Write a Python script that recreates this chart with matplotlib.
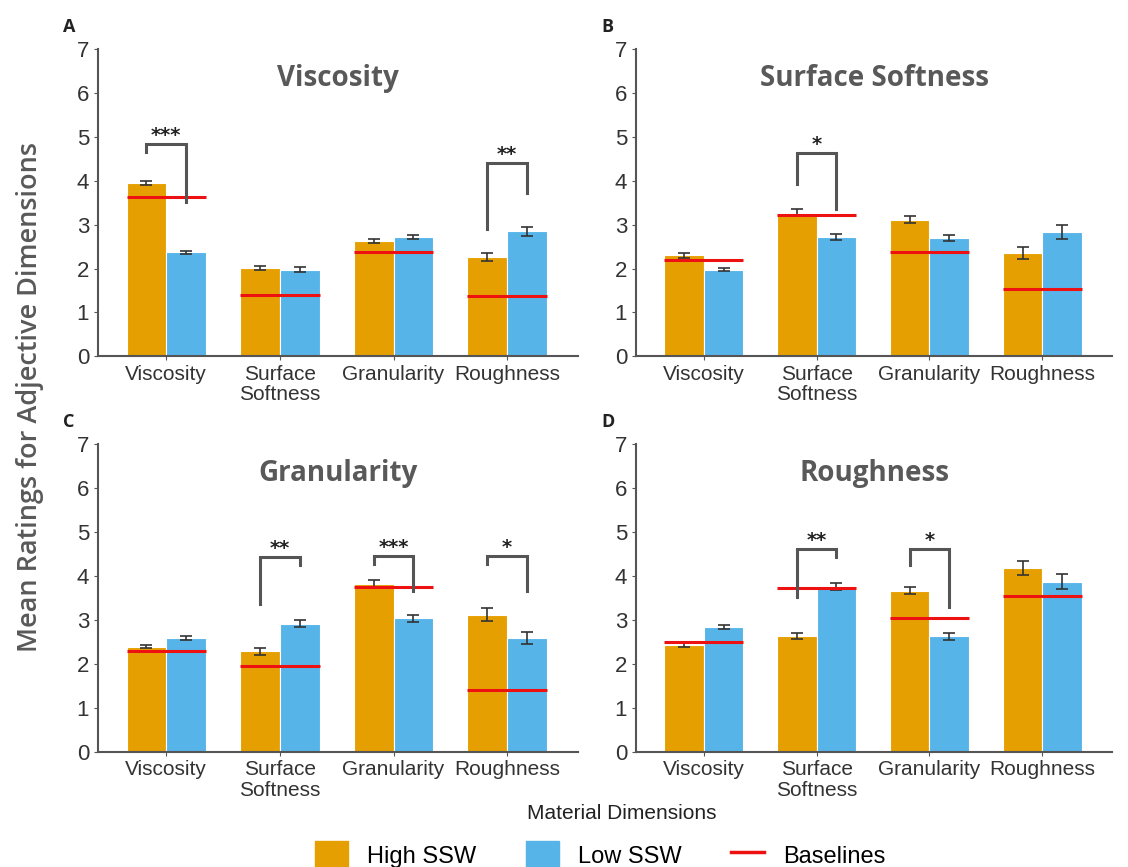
import matplotlib.pyplot as plt
from matplotlib.patches import Patch
from matplotlib.lines import Line2D
import numpy as np

cats = ["Viscosity", "Surface\nSoftness", "Granularity", "Roughness"]
titles = ["Viscosity", "Surface Softness", "Granularity", "Roughness"]
letters = ["A", "B", "C", "D"]

high_A = [3.95, 2.02, 2.63, 2.26]
low_A = [2.37, 1.98, 2.72, 2.85]
high_err_A = [0.05, 0.05, 0.05, 0.09]
low_err_A = [0.03, 0.05, 0.05, 0.10]
base_A = [3.64, 1.41, 2.37, 1.37]

high_B = [2.30, 3.28, 3.12, 2.36]
low_B = [1.98, 2.73, 2.70, 2.84]
high_err_B = [0.05, 0.08, 0.07, 0.13]
low_err_B = [0.03, 0.07, 0.07, 0.16]
base_B = [2.20, 3.23, 2.37, 1.54]

high_C = [2.39, 2.28, 3.82, 3.12]
low_C = [2.58, 2.91, 3.03, 2.59]
high_err_C = [0.04, 0.07, 0.08, 0.15]
low_err_C = [0.05, 0.08, 0.08, 0.13]
base_C = [2.28, 1.94, 3.75, 1.41]

high_D = [2.43, 2.63, 3.66, 4.17]
low_D = [2.84, 3.75, 2.62, 3.87]
high_err_D = [0.04, 0.07, 0.08, 0.16]
low_err_D = [0.05, 0.08, 0.07, 0.17]
base_D = [2.50, 3.73, 3.04, 3.54]

# significance brackets: (category, left leg bottom, top, right leg bottom, stars)
sig_A = [(0, 4.65, 4.84, 3.53, "***"), (3, 2.90, 4.40, 3.72, "**")]
sig_B = [(1, 3.92, 4.63, 3.37, "*")]
sig_C = [(1, 3.37, 4.42, 4.24, "**"), (2, 4.26, 4.44, 3.65, "***"), (3, 4.26, 4.44, 3.65, "*")]
sig_D = [(1, 3.52, 4.60, 4.42, "**"), (2, 4.24, 4.60, 3.29, "*")]

highs = [high_A, high_B, high_C, high_D]
lows = [low_A, low_B, low_C, low_D]
high_errs = [high_err_A, high_err_B, high_err_C, high_err_D]
low_errs = [low_err_A, low_err_B, low_err_C, low_err_D]
bases = [base_A, base_B, base_C, base_D]
sigs = [sig_A, sig_B, sig_C, sig_D]

orange = "#E69F00"
blue = "#56B4E9"
red = "#EE1111"
gray = "#555555"

fig = plt.figure(figsize=(11.28, 8.67), dpi=100)
boxes = [
    [0.087, 0.589, 0.425, 0.354],
    [0.564, 0.589, 0.422, 0.354],
    [0.087, 0.133, 0.425, 0.355],
    [0.564, 0.133, 0.422, 0.355],
]
w = 0.35
x = np.arange(len(cats))

for i in range(4):
    ax = fig.add_axes(boxes[i])
    ax.bar(x - w / 2, highs[i], w, color=orange, edgecolor="white", linewidth=0.8)
    ax.bar(x + w / 2, lows[i], w, color=blue, edgecolor="white", linewidth=0.8)
    ax.errorbar(x - w / 2, highs[i], yerr=high_errs[i], fmt="none", ecolor="#333333",
                elinewidth=1.2, capsize=4, capthick=1.2)
    ax.errorbar(x + w / 2, lows[i], yerr=low_errs[i], fmt="none", ecolor="#333333",
                elinewidth=1.2, capsize=4, capthick=1.2)
    ax.hlines(bases[i], x - w, x + w, color=red, linewidth=2.2, zorder=4)

    for c, yl, yt, yr, s in sigs[i]:
        ax.plot([c - w / 2, c - w / 2, c + w / 2, c + w / 2], [yl, yt, yt, yr],
                color=gray, linewidth=2.2, solid_joinstyle="miter", zorder=5)
        ax.text(c, yt - 0.02, s, ha="center", va="bottom", fontsize=14,
                fontweight="bold", color="#222222")

    ax.set_xlim(-0.6, 3.62)
    ax.set_ylim(0, 7)
    ax.set_yticks(range(8))
    ax.set_xticks(x)
    ax.set_xticklabels(cats, fontsize=15, family="Liberation Sans", color="#333333",
                       linespacing=1.1)
    ax.tick_params(axis="y", labelsize=16, labelcolor="#333333", length=3, color=gray)
    ax.tick_params(axis="x", length=3, color=gray, pad=3)
    for lab in ax.get_yticklabels():
        lab.set_family("Liberation Sans")
    for sp in ["top", "right"]:
        ax.spines[sp].set_visible(False)
    for sp in ["left", "bottom"]:
        ax.spines[sp].set_color(gray)
        ax.spines[sp].set_linewidth(1.5)
    ax.text(0.5, 6.33, titles[i], transform=ax.get_yaxis_transform(), ha="center",
            va="center", fontsize=20, fontweight="bold", family="Open Sans",
            color="#595959")
    ax.text(-0.073, 1.072, letters[i], transform=ax.transAxes, fontsize=13,
            fontweight="bold", family="Open Sans", color="#222222", va="center")

fig.text(0.027, 0.542, "Mean Ratings for Adjective Dimensions", rotation=90,
         ha="center", va="center", fontsize=19.5, fontweight=600, family="Open Sans",
         color="#595959")
fig.text(0.551, 0.062, "Material Dimensions", ha="center", va="center",
         fontsize=15, family="Liberation Sans", color="#222222")

handles = [Patch(color=orange, label="High SSW"), Patch(color=blue, label="Low SSW"),
           Line2D([], [], color=red, linewidth=2.5, label="Baselines")]
fig.legend(handles=handles, loc="center", bbox_to_anchor=(0.532, 0.014), ncol=3,
           frameon=False, prop={"family": "Liberation Sans", "size": 17},
           handlelength=1.4, handleheight=1.4, columnspacing=2.1, handletextpad=0.8)

fig.savefig("out.png", dpi=100)
